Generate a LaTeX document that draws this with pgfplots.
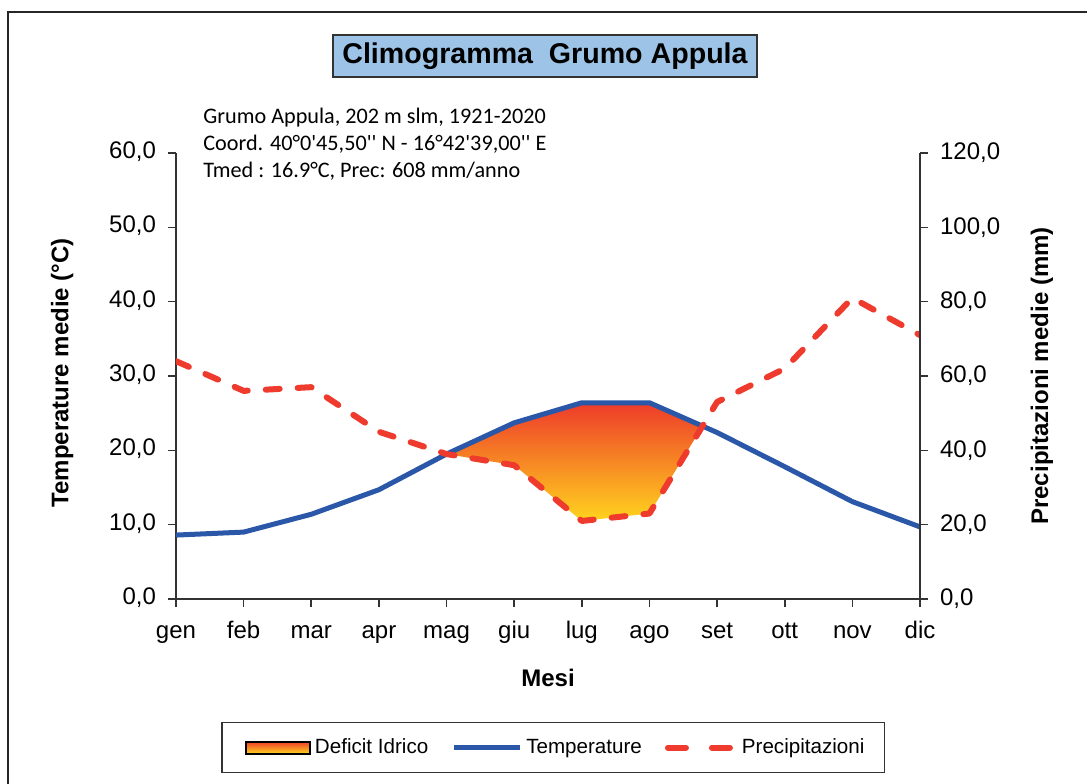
\documentclass[border=0pt]{standalone}
\usepackage{pgfplots}
\pgfplotsset{compat=1.18}
\usepackage{pgfplotstable}
\usepackage{fontspec}
\setmainfont{Liberation Sans}
\newfontfamily\calibri{Carlito}
\definecolor{tblue}{HTML}{2A57A8}
\definecolor{pred}{HTML}{EE3B2E}
\definecolor{gtop}{HTML}{EE3B2A}
\definecolor{gbot}{HTML}{FFD41E}
\definecolor{tbox}{HTML}{9DC3E6}
\pgfplotstableread{
m T P
0 8.6 64
1 9.0 56
2 11.4 57
3 14.7 45
4 19.5 39
5 23.7 36
6 26.4 21
7 26.4 23
8 22.4 53
9 17.8 62
10 13.1 81
11 9.7 71
}\climate
\begin{document}
\begin{tikzpicture}
\path[use as bounding box] (0pt,0pt) rectangle (543.5pt,391.5pt);
\draw[line width=1pt, black!85] (4pt,385.5pt) rectangle (550pt,-10pt);
\begin{axis}[
 at={(88pt,92pt)}, anchor=south west,
 scale only axis, width=372pt, height=223pt,
 xmin=0, xmax=11, ymin=0, ymax=60,
 axis x line*=bottom, axis y line*=left,
 axis line style={black!80, line width=0.8pt},
 tick style={black!80, line width=0.8pt},
 tick align=outside, major tick length=4pt,
 xtick={0,...,11},
 xticklabels={gen,feb,mar,apr,mag,giu,lug,ago,set,ott,nov,dic},
 ytick={0,10,...,60},
 typeset ticklabels with strut,
 ticklabel style={font=\fontsize{12}{14}\selectfont},
 xticklabel style={yshift=-2.5pt},
 yticklabel style={xshift=-2.5pt, /pgf/number format/.cd, fixed, fixed zerofill, precision=1, use comma, assume math mode=true},
 xlabel={Mesi},
 ylabel={Temperature medie (°C)},
 every axis x label/.style={at={(axis description cs:0.5,-0.177)}, anchor=center, font=\bfseries\fontsize{12}{14}\selectfont},
 every axis y label/.style={at={(axis description cs:-0.153,0.507)}, anchor=center, rotate=90, font=\bfseries\fontsize{12}{14}\selectfont},
 legend style={at={(0.507,-0.333)}, anchor=center, legend columns=3, draw=black!80, line width=0.8pt,
   font=\fontsize{10.3}{12}\selectfont, inner xsep=8pt, inner ysep=6pt,
   /tikz/every even column/.append style={column sep=9.5pt}},
 legend cell align=left,
]
% deficit area: temperature above precipitation/2 (crossing at x=7.784)
\addplot[top color=gtop, bottom color=gbot, draw=none,
  legend image code/.code={\path (-4pt,0pt); \draw[top color=gtop,bottom color=gbot,draw=black,line width=1pt] (0pt,-3pt) rectangle (32pt,3pt);}]
  coordinates {(4,19.5) (5,23.7) (6,26.4) (7,26.4) (7.784,23.26) (7,11.5) (6,10.5) (5,18) (4,19.5)} -- cycle;
\addlegendentry{Deficit Idrico}
\addplot[tblue, line width=2.5pt, line join=round,
  legend image code/.code={\draw[tblue, line width=2.5pt] (0pt,0pt) -- (33pt,0pt);}]
  table[x=m,y=T]{\climate};
\addlegendentry{Temperature}
\addplot[pred, line width=3pt, dash pattern=on 7pt off 9pt, line cap=round, line join=round,
  legend image code/.code={\draw[pred, line width=3pt, line cap=round, dash pattern=on 9pt off 13pt] (1.5pt,0pt) -- (35pt,0pt);}]
  table[x=m,y expr=\thisrow{P}/2]{\climate};
\addlegendentry{Precipitazioni}
\end{axis}
\begin{axis}[
 at={(88pt,92pt)}, anchor=south west,
 scale only axis, width=372pt, height=223pt,
 xmin=0, xmax=11, ymin=0, ymax=120,
 axis x line=none, axis y line*=right,
 axis line style={black!80, line width=0.8pt},
 tick style={black!80, line width=0.8pt},
 tick align=outside, major tick length=4pt,
 ytick={0,20,...,120},
 ticklabel style={font=\fontsize{12}{14}\selectfont},
 yticklabel style={xshift=2.5pt, /pgf/number format/.cd, fixed, fixed zerofill, precision=1, use comma, assume math mode=true},
 ylabel={Precipitazioni medie (mm)},
 every axis y label/.style={at={(axis description cs:1.164,0.5)}, anchor=center, rotate=90, font=\bfseries\fontsize{12}{14}\selectfont},
]
\addplot[draw=none, forget plot] coordinates {(0,0)};
\end{axis}
\node[draw=black!80, line width=0.8pt, fill=tbox, minimum width=212pt, minimum height=21pt, inner sep=0pt,
  font=\bfseries\fontsize{14.3}{16}\selectfont] at (272.5pt,363.5pt) {Climogramma\ \ Grumo Appula};
\begin{scope}[every node/.style={anchor=base west, inner sep=0pt, font=\calibri\fontsize{11.1}{13}\selectfont}]
\node at (101.5pt,329.5pt) {Grumo Appula, 202 m slm, 1921-2020};
\node at (101.5pt,316pt) {Coord. 40°0\char"27 45,50\char"27\char"27\ N - 16°42\char"27 39,00\char"27\char"27\ E};
\node at (101.5pt,302.5pt) {Tmed : 16.9°C, Prec: 608 mm/anno};
\end{scope}
\end{tikzpicture}
\end{document}
